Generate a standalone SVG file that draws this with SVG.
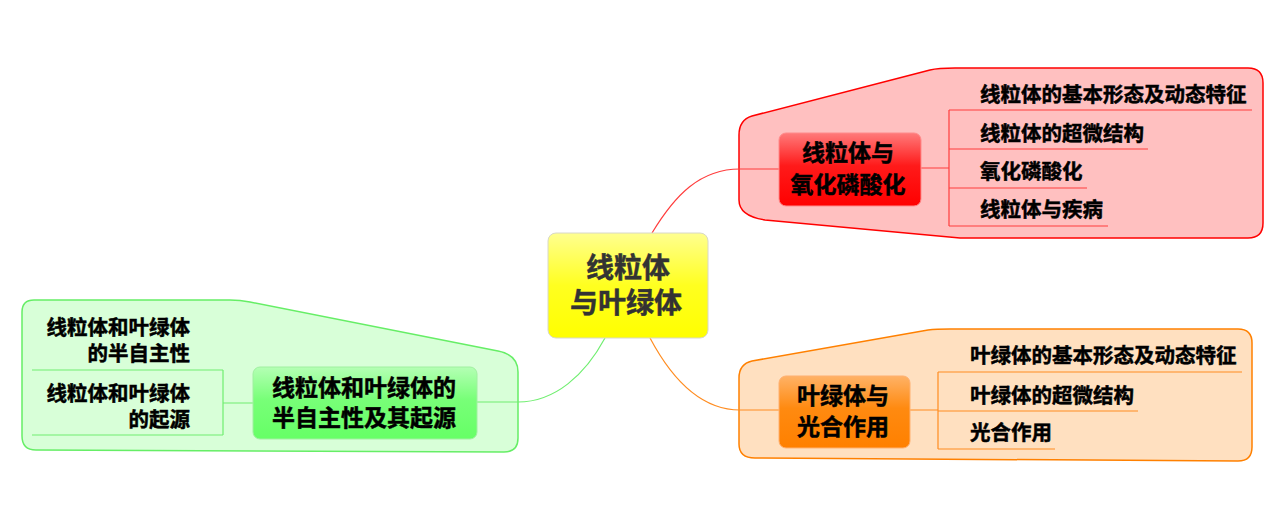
<svg xmlns="http://www.w3.org/2000/svg" width="1280" height="528" viewBox="0 0 1280 528">
<defs>
<linearGradient id="gY" x1="0" y1="0" x2="0" y2="1"><stop offset="0" stop-color="#ffff90"/><stop offset="0.5" stop-color="#ffff20"/><stop offset="1" stop-color="#ffff00"/></linearGradient>
<linearGradient id="gR" x1="0" y1="0" x2="0" y2="1"><stop offset="0" stop-color="#ff7a7a"/><stop offset="0.45" stop-color="#ff1a1a"/><stop offset="1" stop-color="#ff0000"/></linearGradient>
<linearGradient id="gO" x1="0" y1="0" x2="0" y2="1"><stop offset="0" stop-color="#ffb266"/><stop offset="0.45" stop-color="#ff8a10"/><stop offset="1" stop-color="#ff8000"/></linearGradient>
<linearGradient id="gG" x1="0" y1="0" x2="0" y2="1"><stop offset="0" stop-color="#b4ffb4"/><stop offset="0.45" stop-color="#78ff78"/><stop offset="1" stop-color="#66ff66"/></linearGradient>
<style>
text{font-family:"Noto Sans CJK SC","Noto Sans CJK JP",sans-serif;font-weight:bold;fill:#000;stroke:#000;stroke-width:0.5}
.central{font-size:28px;fill:#333;stroke:#333;text-anchor:middle}
.main{font-size:23px;text-anchor:middle}
.sub{font-size:20.5px}
.subr{font-size:20.5px;text-anchor:end}
.ln{fill:none;stroke-width:1.2}
.red{stroke:#ff3c3c}
.org{stroke:#ff8c20}
.grn{stroke:#70ee70}
</style>
</defs>

<g id="boundaries">
<path id="b-red" d="M739,135 Q739,120 752,116 L930,70 Q938,68 955,68 L1248,68 Q1263,68 1263,83 L1263,223 Q1263,238 1248,238 L960,238 L765,220 Q739,216 739,200 Z" fill="#ffc0c0" stroke="#ff0000" stroke-width="1.5"/>
<path id="b-org" d="M739,378 Q739,364 752,361 L928,330 Q936,329 950,329 L1238,329 Q1252,329 1252,343 L1252,447 Q1252,461 1238,461 L755,458 Q739,458 739,444 Z" fill="#ffe0c0" stroke="#ff8000" stroke-width="1.5"/>
<path id="b-grn" d="M22,312 Q22,300 34,300 L230,300 Q240,300 250,302 L498,351 Q518,355 518,372 L518,438 Q518,452 504,452 L36,450 Q22,450 22,436 Z" fill="#d8ffd8" stroke="#66ee66" stroke-width="1.5"/>
</g>

<g id="connectors">
<path class="ln red" d="M652,233 C675,195 700,169 740,169 L779,169"/>
<path class="ln org" d="M650,338 C675,385 705,410 740,410 L779,410"/>
<path class="ln grn" d="M605,338 C585,375 555,402 518,402 L477,402"/>
<path class="ln red" d="M921,168 L949,168 M949,110 L949,226 M949,110 L1252,110 M949,149 L1148,149 M949,188 L1087,188 M949,226 L1108,226"/>
<path class="ln org" d="M910,410 L938,410 M938,372 L938,449 M938,372 L1242,372 M938,411 L1138,411 M938,449 L1055,449"/>
<path class="ln grn" d="M253,403 L223,403 M223,370 L223,435 M223,370 L32,370 M223,435 L32,435"/>
</g>

<g id="n-center">
<rect x="548" y="233" width="160" height="105" rx="8" fill="url(#gY)" stroke="#d8d8c8" stroke-width="1"/>
<text class="central"><tspan x="628" y="278">线粒体</tspan><tspan x="626" y="313">与叶绿体</tspan></text>
</g>

<g id="n-red">
<rect x="779" y="133" width="142" height="73" rx="7" fill="url(#gR)" stroke="#ff8a8a" stroke-width="1"/>
<text class="main"><tspan x="848" y="161">线粒体与</tspan><tspan x="848" y="193">氧化磷酸化</tspan></text>
</g>
<g id="r1"><text class="sub" x="980" y="102">线粒体的基本形态及动态特征</text></g>
<g id="r2"><text class="sub" x="980" y="141">线粒体的超微结构</text></g>
<g id="r3"><text class="sub" x="980" y="179">氧化磷酸化</text></g>
<g id="r4"><text class="sub" x="980" y="217">线粒体与疾病</text></g>

<g id="n-org">
<rect x="779" y="376" width="131" height="72" rx="7" fill="url(#gO)" stroke="#ffb070" stroke-width="1"/>
<text class="main"><tspan x="843" y="404">叶绿体与</tspan><tspan x="843" y="435">光合作用</tspan></text>
</g>
<g id="o1"><text class="sub" x="970" y="363">叶绿体的基本形态及动态特征</text></g>
<g id="o2"><text class="sub" x="970" y="403">叶绿体的超微结构</text></g>
<g id="o3"><text class="sub" x="970" y="440">光合作用</text></g>

<g id="n-grn">
<rect x="253" y="367" width="224" height="72" rx="7" fill="url(#gG)" stroke="#a0f0a0" stroke-width="1"/>
<text class="main"><tspan x="364" y="396">线粒体和叶绿体的</tspan><tspan x="364" y="426">半自主性及其起源</tspan></text>
</g>
<g id="g1">
<text class="subr"><tspan x="190" y="335">线粒体和叶绿体</tspan><tspan x="190" y="361">的半自主性</tspan></text>
</g>
<g id="g2">
<text class="subr"><tspan x="190" y="401">线粒体和叶绿体</tspan><tspan x="190" y="427">的起源</tspan></text>
</g>
</svg>
